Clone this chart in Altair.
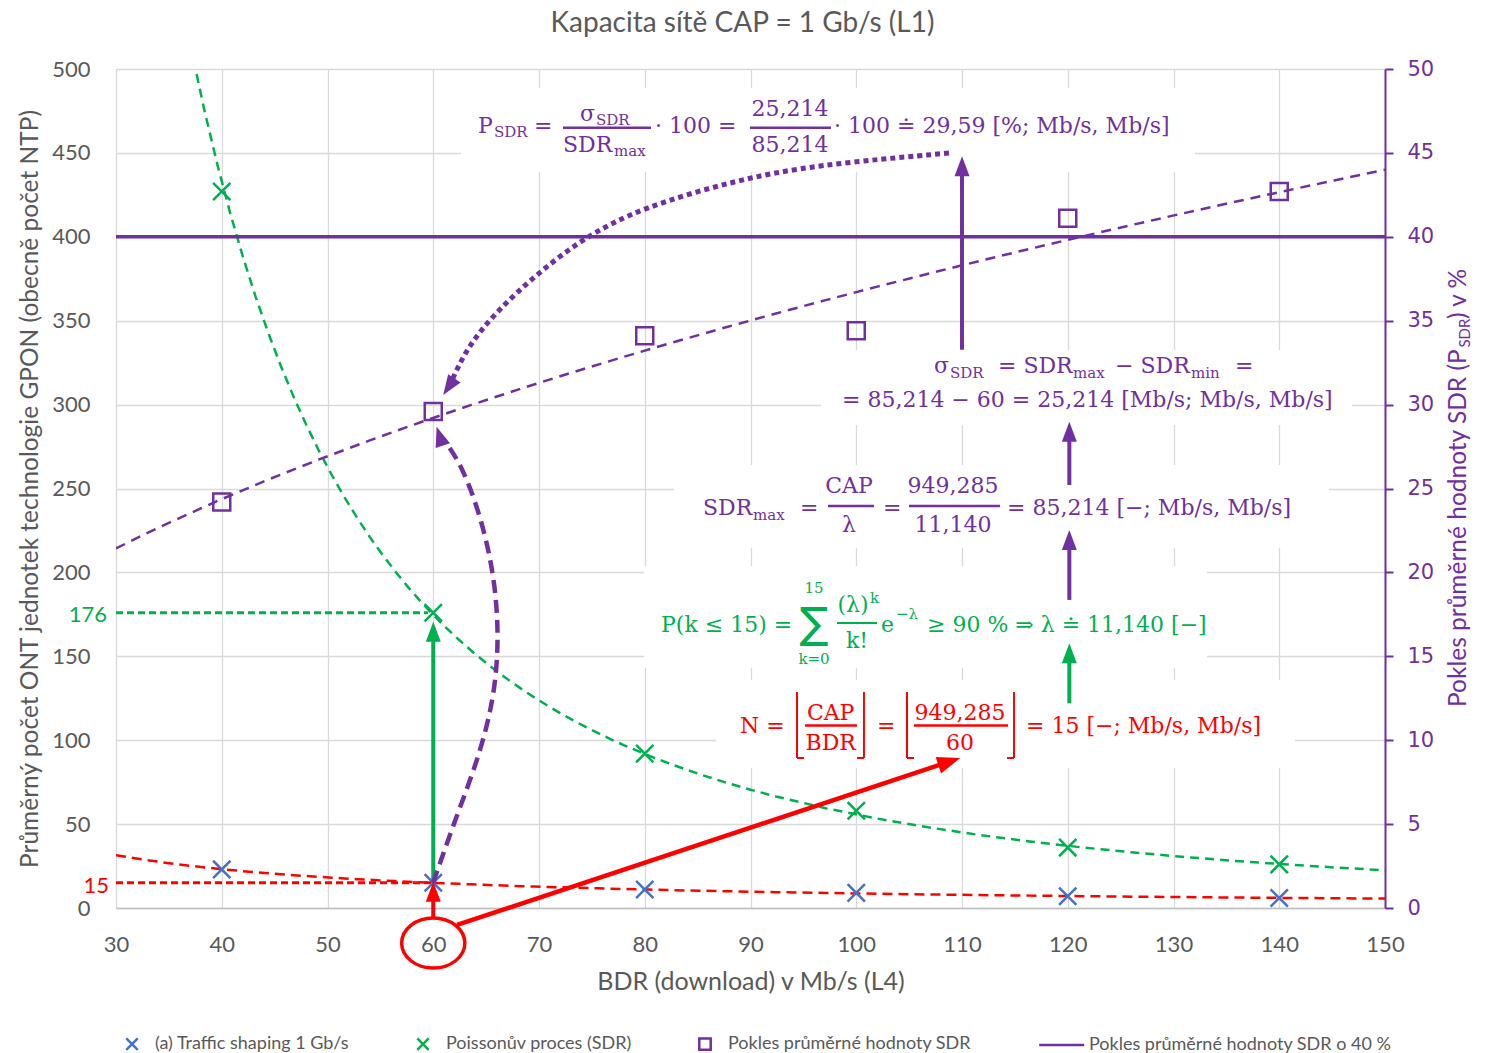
import altair as alt
import pandas as pd

# ---------------------------------------------------------------- series data
BDR = [40, 60, 80, 100, 120, 140]                  # BDR (download) in Mb/s
SHAPING = [23, 15, 11, 9, 7, 6]                    # ONT count, traffic shaping 1 Gb/s
POISSON = [427, 176, 92, 58, 36, 26]               # ONT count, Poisson process (SDR)
PSDR = [24.2, 29.59, 34.1, 34.4, 41.1, 42.7]       # drop of mean SDR in %
PSDR_LIMIT = [40]                                  # 40 % threshold

SERIES = [
    "(a) Traffic shaping 1 Gb/s",
    "Poissonův proces (SDR)",
    "Pokles průměrné hodnoty SDR",
    "Pokles průměrné hodnoty SDR o 40 %",
]
BLUE, GREEN, PURPLE, RED, GREY = "#4472C4", "#00B050", "#7030A0", "#FF0000", "#595959"
SERIES_COLORS = [BLUE, GREEN, PURPLE, PURPLE]
CROSS = "M-1,-1L1,1M1,-1L-1,1"
SERIES_SHAPES = [CROSS, CROSS, "square", "M-4.7,0L3.2,0"]

X_TICKS = list(range(30, 151, 10))
LEFT_TICKS = list(range(0, 501, 50))
RIGHT_TICKS = list(range(0, 51, 5))

SANS = "Lato"
SERIF = "DejaVu Serif"
HEAD = "M0,-1L0.75,1L-0.75,1Z"
ELLIPSE = "M-1.264,0A1.264,1 0 1,0 1.264,0A1.264,1 0 1,0 -1.264,0Z"

# ------------------------------------------------------------ annotation data
# white panels behind the formulas: x, x2, y, y2 (BDR / ONT units)
BOX_X = [62.62, 96.67, 82.77, 79.93, 86.74]
BOX_X2 = [132.03, 146.88, 144.70, 133.17, 141.49]
BOX_Y = [438.6, 287.8, 214.5, 143.0, 83.4]
BOX_Y2 = [488.7, 332.5, 264.0, 203.8, 135.9]

# dashed guides to the left axis
GUIDE_X = [30, 30]
GUIDE_X2 = [59.5, 60]
GUIDE_Y = [176, 15]
GUIDE_COLOR = [GREEN, RED]

# solid segments: fraction bars, floor brackets and straight arrow shafts
SEG = [
    # x, x2, y, y2, colour, width
    (72.27, 80.59, 465.0, 465.0, PURPLE, 2.5),
    (89.95, 97.61, 465.0, 465.0, PURPLE, 2.5),
    (97.33, 101.68, 239.6, 239.6, PURPLE, 2.5),
    (104.99, 113.59, 239.6, 239.6, PURPLE, 2.5),
    (98.18, 101.96, 169.8, 169.8, GREEN, 2),
    (95.15, 100.07, 108.8, 108.8, RED, 2.5),
    (105.46, 114.35, 108.8, 108.8, RED, 2.5),
    (94.40, 94.40, 89.4, 128.7, RED, 2),
    (94.40, 95.06, 89.4, 89.4, RED, 2),
    (100.73, 100.73, 89.4, 128.7, RED, 2),
    (100.07, 100.73, 89.4, 89.4, RED, 2),
    (104.80, 104.80, 89.4, 128.7, RED, 2),
    (104.80, 105.46, 89.4, 89.4, RED, 2),
    (114.92, 114.92, 89.4, 128.7, RED, 2),
    (114.26, 114.92, 89.4, 89.4, RED, 2),
    (60, 60, 16.7, 164.5, GREEN, 4),
    (60, 60, -5.4, 9.5, RED, 4),
    (62.25, 108.8, -10.1, 87.2, RED, 4.5),
    (110.0, 110.0, 332.7, 442.0, PURPLE, 4),
    (120.15, 120.15, 252.1, 283.8, PURPLE, 4),
    (120.15, 120.15, 183.6, 219.3, PURPLE, 4),
    (120.15, 120.15, 122.0, 151.8, GREEN, 4),
]

# arrow heads: x, y, rotation, colour, symbol size
HEADS = [
    (60, 164.6, 0, GREEN, 400),
    (60, 9.7, 0, RED, 400),
    (108.8, 87.2, 71.7, RED, 530),
    (110.0, 442.0, 0, PURPLE, 400),
    (120.15, 283.8, 0, PURPLE, 400),
    (120.15, 219.3, 0, PURPLE, 400),
    (120.15, 151.8, 0, GREEN, 400),
    (60.61, 281.2, 342, PURPLE, 400),
    (61.47, 310.7, 214, PURPLE, 400),
]

# curved arrows
DASHED_CURVE_X = [59.98, 62.06, 64.23, 65.74, 66.22, 65.84, 64.61, 62.72, 60.9]
DASHED_CURVE_Y = [14.9, 52.4, 88.2, 124.0, 159.7, 195.5, 231.2, 264.0, 280.0]
DOTTED_CURVE_X = [108.77, 96.10, 88.63, 79.65, 74.35, 69.91, 66.12, 63.19, 61.6]
DOTTED_CURVE_Y = [449.9, 442.8, 433.8, 417.2, 399.9, 378.4, 356.4, 334.3, 312.0]

# ring round the "60" tick label
RING_X = [60]
RING_Y = [-20.9]

# formula pieces, left aligned: text, x, y, size, colour
MAIN, SUB = 22, 15
TEXT_LEFT = [
    ("P", 64.23, 461.9, MAIN, PURPLE),
    ("SDR", 65.74, 459.6, SUB, PURPLE),
    ("=", 69.53, 461.9, MAIN, PURPLE),
    ("σ", 73.88, 469.0, MAIN, PURPLE),
    ("SDR", 75.39, 466.6, SUB, PURPLE),
    ("SDR", 72.27, 450.5, MAIN, PURPLE),
    ("max", 77.09, 448.1, SUB, PURPLE),
    ("· 100 =", 80.97, 461.9, MAIN, PURPLE),
    ("· 100 ≐ 29,59 [%; Mb/s, Mb/s]", 97.90, 461.9, MAIN, PURPLE),

    ("σ", 107.35, 318.8, MAIN, PURPLE),
    ("SDR", 108.87, 315.9, SUB, PURPLE),
    ("= SDR", 113.40, 318.8, MAIN, PURPLE),
    ("max", 120.50, 315.9, SUB, PURPLE),
    ("− SDR", 124.47, 318.8, MAIN, PURPLE),
    ("min", 131.65, 315.9, SUB, PURPLE),
    ("=", 135.82, 318.8, MAIN, PURPLE),
    ("= 85,214 − 60 = 25,214 [Mb/s; Mb/s, Mb/s]", 98.65, 298.6, MAIN, PURPLE),

    ("SDR", 85.51, 234.2, MAIN, PURPLE),
    ("max", 90.24, 231.2, SUB, PURPLE),
    ("=", 94.68, 234.2, MAIN, PURPLE),
    ("=", 102.53, 234.2, MAIN, PURPLE),
    ("= 85,214 [−; Mb/s, Mb/s]", 114.26, 234.2, MAIN, PURPLE),

    ("P(k ≤ 15) =", 81.54, 164.5, MAIN, GREEN),
    ("k", 101.30, 181.8, SUB, GREEN),
    ("e", 102.34, 164.5, MAIN, GREEN),
    ("−λ", 103.76, 172.0, SUB, GREEN),
    ("≥ 90 % ⇒ λ ≐ 11,140 [−]", 106.69, 164.5, MAIN, GREEN),

    ("N =", 89.01, 104.3, MAIN, RED),
    ("=", 101.96, 104.3, MAIN, RED),
    ("= 15 [−; Mb/s, Mb/s]", 116.05, 104.3, MAIN, RED),
]

# formula pieces, centred on their fraction bars
TEXT_CENTER = [
    ("25,214", 93.74, 472.0, MAIN, PURPLE),
    ("85,214", 93.74, 450.5, MAIN, PURPLE),
    ("CAP", 99.31, 247.3, MAIN, PURPLE),
    ("λ", 99.31, 224.1, MAIN, PURPLE),
    ("949,285", 109.15, 247.3, MAIN, PURPLE),
    ("11,140", 109.15, 224.1, MAIN, PURPLE),
    ("15", 96.01, 188.0, SUB, GREEN),
    ("k=0", 96.01, 145.2, SUB, GREEN),
    ("(λ)", 99.69, 176.4, MAIN, GREEN),
    ("k!", 100.07, 154.9, MAIN, GREEN),
    ("CAP", 97.58, 111.8, MAIN, RED),
    ("BDR", 97.58, 94.2, MAIN, RED),
    ("949,285", 109.81, 111.8, MAIN, RED),
    ("60", 109.81, 94.2, MAIN, RED),
]
SIGMA = [("∑", 96.01, 160.8, 43, GREEN)]

# values marked on the left axis
MARKS = [("176", 29.15, 170.4, 22, GREEN), ("15", 29.34, 8.9, 22, RED)]

# right axis title, split for the subscript (x in BDR units, y in %)
RIGHT_TITLE = [
    ("Pokles průměrné hodnoty SDR (P", 157.66, 11.98, 24.5),
    ("SDR", 158.04, 33.4, 15),
    (") v %", 157.66, 35.1, 24.5),
]


def frame(rows, cols):
    return pd.DataFrame(rows, columns=cols)


# ------------------------------------------------------------------- scales
xs = alt.Scale(domain=[30, 150], nice=False, zero=False)
yl = alt.Scale(domain=[0, 500], nice=False, zero=True)
yr = alt.Scale(domain=[0, 50], nice=False, zero=True)

X = alt.X(
    "x:Q", scale=xs,
    axis=alt.Axis(values=X_TICKS, title="BDR (download) v Mb/s (L4)", grid=True,
                  ticks=False, domainColor="#bfbfbf", domainWidth=1.3,
                  labelPadding=26, titlePadding=14, titleFontSize=25,
                  labelFlush=False, labelOverlap=False),
)
YL = alt.Y(
    "y:Q", scale=yl,
    axis=alt.Axis(values=LEFT_TICKS,
                  title="Průměrný počet ONT jednotek technologie GPON (obecně počet NTP)",
                  grid=True, ticks=False, domain=False, labelPadding=26,
                  titlePadding=9, titleFontSize=24.5, labelOverlap=False),
)
YR = alt.Y(
    "y:Q", scale=yr,
    axis=alt.Axis(orient="right", values=RIGHT_TICKS, title=None, grid=False,
                  domainColor=PURPLE, domainWidth=2, tickColor=PURPLE, tickSize=8,
                  tickWidth=2, labelColor=PURPLE, labelFont="DejaVu Sans",
                  labelFontSize=21, labelPadding=14, labelOverlap=False),
)

LEGEND = alt.Legend(
    title=None, orient="none", legendX=7, legendY=966, direction="horizontal",
    labelFont=SANS, labelFontSize=18, labelColor=GREY, labelLimit=600,
    symbolSize=130, symbolStrokeWidth=2.5, labelOffset=14, columnPadding=62,
)
COLOR = alt.Color("series:N", scale=alt.Scale(domain=SERIES, range=SERIES_COLORS), legend=LEGEND)
SHAPE = alt.Shape("series:N", scale=alt.Scale(domain=SERIES, range=SERIES_SHAPES), legend=LEGEND)

# -------------------------------------------------------------- left axis
shaping_df = pd.DataFrame({"x": BDR, "y": SHAPING, "series": SERIES[0]})
poisson_df = pd.DataFrame({"x": BDR, "y": POISSON, "series": SERIES[1]})
count_df = pd.concat([shaping_df, poisson_df], ignore_index=True)

boxes = alt.Chart(pd.DataFrame({"x": BOX_X, "x2": BOX_X2, "y": BOX_Y, "y2": BOX_Y2})).mark_rect(
    fill="white").encode(x=X, x2="x2:Q", y=YL, y2="y2:Q")

shaping_trend = alt.Chart(shaping_df).transform_regression(
    "x", "y", method="pow", extent=[30, 150]
).mark_line(color=RED, strokeWidth=2.5, strokeDash=[10, 6], clip=True).encode(x=X, y=YL)

poisson_trend = alt.Chart(poisson_df).transform_regression(
    "x", "y", method="pow", extent=[30, 150]
).mark_line(color=GREEN, strokeWidth=2.5, strokeDash=[9, 6], clip=True).encode(x=X, y=YL)

guides = alt.Chart(pd.DataFrame({"x": GUIDE_X, "x2": GUIDE_X2, "y": GUIDE_Y, "color": GUIDE_COLOR})).mark_rule(
    strokeWidth=3, strokeDash=[7, 4]).encode(
    x=X, x2="x2:Q", y=YL, stroke=alt.Stroke("color:N", scale=None))

count_points = alt.Chart(count_df).mark_point(filled=False, size=300, strokeWidth=2.5, opacity=1).encode(
    x=X, y=YL, color=COLOR, shape=SHAPE)

segments = alt.Chart(frame(SEG, ["x", "x2", "y", "y2", "color", "w"])).mark_rule().encode(
    x=X, x2="x2:Q", y=YL, y2="y2:Q",
    stroke=alt.Stroke("color:N", scale=None),
    strokeWidth=alt.StrokeWidth("w:Q", scale=None))

dashed_curve = alt.Chart(pd.DataFrame({"x": DASHED_CURVE_X, "y": DASHED_CURVE_Y,
                                       "i": range(len(DASHED_CURVE_X))})).mark_line(
    interpolate="basis", color=PURPLE, strokeWidth=4.5, strokeDash=[13, 7]).encode(
    x=X, y=YL, order="i:Q")

dotted_curve = alt.Chart(pd.DataFrame({"x": DOTTED_CURVE_X, "y": DOTTED_CURVE_Y,
                                       "i": range(len(DOTTED_CURVE_X))})).mark_line(
    interpolate="basis", color=PURPLE, strokeWidth=5, strokeDash=[5, 4]).encode(
    x=X, y=YL, order="i:Q")

heads = alt.Chart(frame(HEADS, ["x", "y", "angle", "color", "s"])).mark_point(
    shape=HEAD, filled=True, opacity=1, strokeWidth=0).encode(
    x=X, y=YL,
    fill=alt.Fill("color:N", scale=None),
    angle=alt.Angle("angle:Q", scale=None),
    size=alt.Size("s:Q", scale=None))

ring = alt.Chart(pd.DataFrame({"x": RING_X, "y": RING_Y})).mark_point(
    shape=ELLIPSE, size=2500, filled=False, color=RED, strokeWidth=3.5, opacity=1).encode(x=X, y=YL)


def text_layer(rows, align, font, weight="normal"):
    return alt.Chart(frame(rows, ["text", "x", "y", "size", "color"])).mark_text(
        align=align, baseline="alphabetic", font=font, fontWeight=weight).encode(
        x=X, y=YL, text="text:N",
        fill=alt.Fill("color:N", scale=None),
        size=alt.Size("size:Q", scale=None))


text_left = text_layer(TEXT_LEFT, "left", SERIF)
text_center = text_layer(TEXT_CENTER, "center", SERIF)
sigma = text_layer(SIGMA, "center", "DejaVu Sans")
marks = text_layer(MARKS, "right", SANS)

left = alt.layer(
    boxes, shaping_trend, poisson_trend, guides, count_points,
    segments, dashed_curve, dotted_curve, heads, ring,
    text_left, text_center, sigma, marks,
)

# ------------------------------------------------------------- right axis
psdr_df = pd.DataFrame({"x": BDR, "y": PSDR, "series": SERIES[2]})

limit = alt.Chart(pd.DataFrame({"y": PSDR_LIMIT})).mark_rule(
    color=PURPLE, strokeWidth=3.5).encode(y=YR)

psdr_trend = alt.Chart(psdr_df).transform_regression(
    "x", "y", method="pow", extent=[30, 150]
).mark_line(color=PURPLE, strokeWidth=2.5, strokeDash=[10, 7], clip=True).encode(x=X, y=YR)

psdr_points = alt.Chart(psdr_df).mark_point(filled=False, size=290, strokeWidth=2.5, opacity=1).encode(
    x=X, y=YR, color=COLOR, shape=SHAPE)

right_title = alt.Chart(frame(RIGHT_TITLE, ["text", "x", "y", "size"])).mark_text(
    align="left", baseline="alphabetic", angle=270, font=SANS, color=PURPLE).encode(
    x=X, y=YR, text="text:N", size=alt.Size("size:Q", scale=None))

right = alt.layer(limit, psdr_trend, psdr_points, right_title)

chart = alt.layer(left, right).resolve_scale(y="independent").properties(
    width=1269,
    height=839,
    padding={"left": 116, "top": 69, "right": 111, "bottom": 145},
    autosize=alt.AutoSizeParams(type="none"),
    title=alt.TitleParams(
        text="Kapacita sítě CAP = 1 Gb/s (L1)", font=SANS, fontSize=28,
        fontWeight="normal", color=GREY, offset=20, dx=-8),
).configure_view(stroke=None).configure_axis(
    gridColor="#d9d9d9", gridWidth=1.3,
    labelFont=SANS, labelFontSize=22, labelColor=GREY,
    titleFont=SANS, titleFontSize=22, titleColor=GREY, titleFontWeight="normal",
)

chart.save("out.html", embed_options={"renderer": "svg", "actions": False})
